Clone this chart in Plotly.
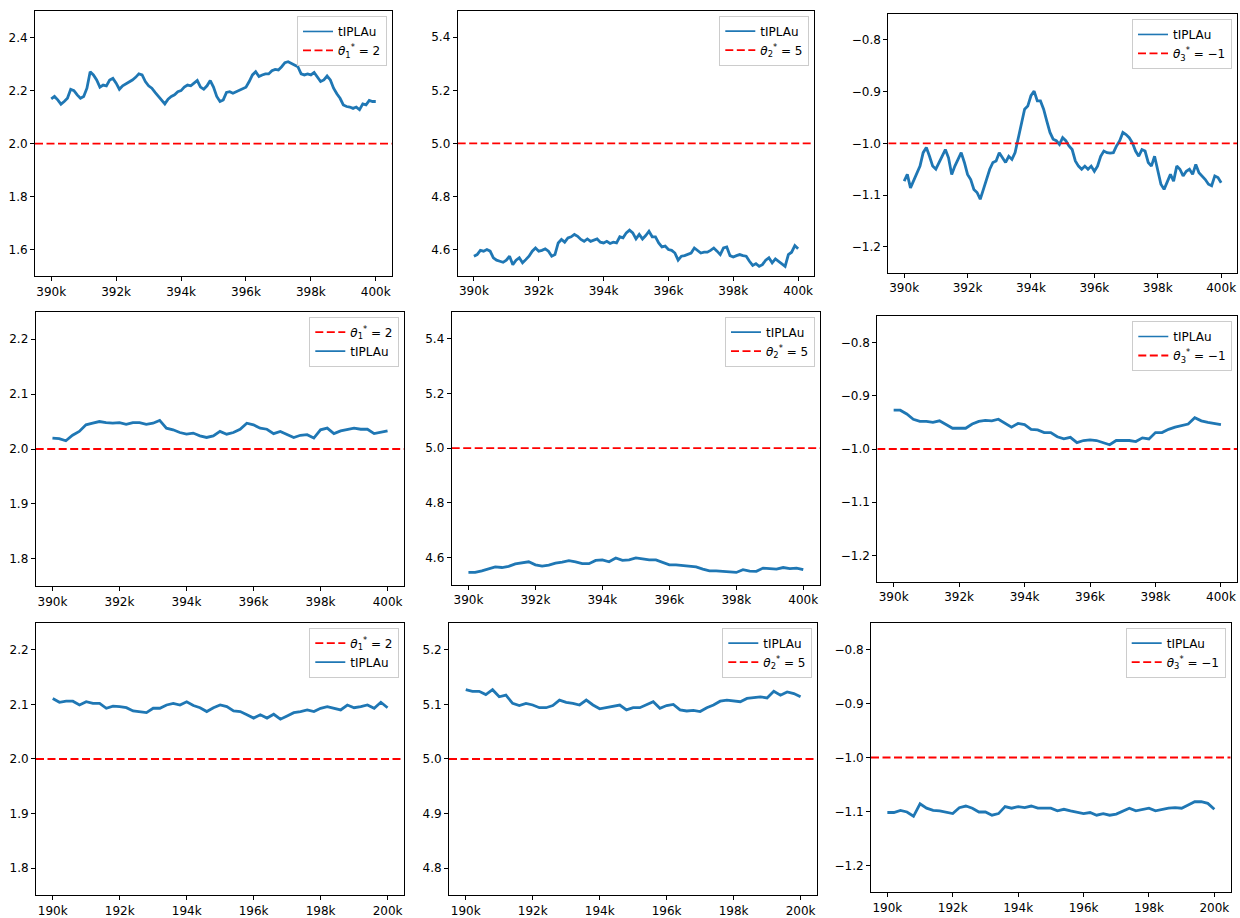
import numpy as np
import plotly.graph_objects as go

# ---------------- data ----------------
x_top = list(range(390000, 400001, 100))        # 101 points, row 1
x_mid = list(range(390000, 400001, 200))        # 51 points, row 2
x_bot = list(range(190000, 200001, 200))        # 51 points, row 3

r1_theta1 = [2.169, 2.178, 2.165, 2.149, 2.159, 2.171, 2.205, 2.200, 2.184, 2.171,
             2.178, 2.209, 2.271, 2.259, 2.240, 2.213, 2.221, 2.218, 2.240, 2.246,
             2.228, 2.205, 2.218, 2.225, 2.230, 2.240, 2.250, 2.263, 2.259, 2.234,
             2.218, 2.209, 2.193, 2.178, 2.165, 2.150, 2.168, 2.178, 2.184, 2.196,
             2.200, 2.213, 2.221, 2.218, 2.228, 2.238, 2.213, 2.205, 2.218, 2.238,
             2.213, 2.178, 2.159, 2.165, 2.193, 2.196, 2.190, 2.195, 2.200, 2.205,
             2.213, 2.234, 2.259, 2.271, 2.253, 2.259, 2.263, 2.263, 2.275, 2.280,
             2.278, 2.290, 2.305, 2.309, 2.303, 2.296, 2.290, 2.263, 2.259, 2.263,
             2.259, 2.268, 2.253, 2.234, 2.240, 2.255, 2.240, 2.209, 2.188, 2.171,
             2.146, 2.140, 2.138, 2.133, 2.138, 2.128, 2.150, 2.146, 2.163, 2.159,
             2.159]

r1_theta2 = [4.575, 4.581, 4.597, 4.594, 4.600, 4.594, 4.569, 4.560, 4.556, 4.552,
             4.560, 4.575, 4.543, 4.560, 4.569, 4.550, 4.562, 4.575, 4.594, 4.606,
             4.594, 4.597, 4.603, 4.594, 4.575, 4.581, 4.625, 4.638, 4.628, 4.644,
             4.648, 4.657, 4.650, 4.638, 4.631, 4.640, 4.631, 4.635, 4.640, 4.628,
             4.625, 4.631, 4.623, 4.628, 4.625, 4.648, 4.644, 4.663, 4.673, 4.663,
             4.640, 4.657, 4.640, 4.653, 4.669, 4.648, 4.648, 4.625, 4.610, 4.613,
             4.600, 4.597, 4.587, 4.560, 4.575, 4.577, 4.581, 4.587, 4.606, 4.597,
             4.587, 4.590, 4.590, 4.597, 4.606, 4.594, 4.581, 4.606, 4.610, 4.577,
             4.572, 4.577, 4.581, 4.577, 4.575, 4.556, 4.540, 4.547, 4.537, 4.543,
             4.560, 4.569, 4.550, 4.565, 4.556, 4.547, 4.537, 4.581, 4.590, 4.615,
             4.603]

r1_theta3 = [-1.073, -1.060, -1.086, -1.073, -1.057, -1.044, -1.018, -1.008, -1.025, -1.044,
             -1.050, -1.037, -1.025, -1.012, -1.028, -1.060, -1.044, -1.031, -1.018, -1.037,
             -1.060, -1.070, -1.089, -1.095, -1.108, -1.089, -1.070, -1.050, -1.037, -1.034,
             -1.018, -1.028, -1.037, -1.025, -1.031, -1.018, -0.992, -0.960, -0.934, -0.928,
             -0.908, -0.899, -0.918, -0.918, -0.934, -0.957, -0.979, -0.992, -0.995, -1.002,
             -0.989, -0.995, -1.005, -1.012, -1.034, -1.044, -1.050, -1.044, -1.050, -1.044,
             -1.054, -1.044, -1.025, -1.015, -1.018, -1.019, -1.018, -1.005, -0.995, -0.979,
             -0.983, -0.989, -0.999, -1.015, -1.025, -1.012, -1.015, -1.037, -1.044, -1.025,
             -1.050, -1.079, -1.089, -1.076, -1.060, -1.073, -1.044, -1.050, -1.063, -1.054,
             -1.050, -1.060, -1.041, -1.057, -1.063, -1.070, -1.079, -1.082, -1.063, -1.066,
             -1.076]

r2_theta1 = [2.020, 2.019, 2.015, 2.025, 2.032, 2.044, 2.047, 2.050, 2.048, 2.047,
             2.048, 2.045, 2.048, 2.048, 2.045, 2.047, 2.052, 2.038, 2.035, 2.030,
             2.027, 2.029, 2.024, 2.021, 2.024, 2.032, 2.027, 2.030, 2.036, 2.047,
             2.044, 2.038, 2.036, 2.028, 2.032, 2.026, 2.021, 2.025, 2.026, 2.020,
             2.035, 2.038, 2.028, 2.033, 2.035, 2.038, 2.036, 2.036, 2.028, 2.030,
             2.033]

r2_theta2 = [4.545, 4.545, 4.551, 4.557, 4.565, 4.563, 4.567, 4.576, 4.579, 4.584,
             4.573, 4.568, 4.572, 4.579, 4.583, 4.588, 4.584, 4.577, 4.577, 4.589,
             4.591, 4.584, 4.598, 4.589, 4.591, 4.598, 4.595, 4.591, 4.591, 4.582,
             4.573, 4.573, 4.570, 4.567, 4.565, 4.557, 4.551, 4.551, 4.549, 4.545,
             4.545, 4.555, 4.550, 4.549, 4.561, 4.559, 4.557, 4.563, 4.559, 4.561,
             4.555]

r2_theta3 = [-0.927, -0.927, -0.934, -0.944, -0.948, -0.948, -0.950, -0.947, -0.954, -0.961,
             -0.961, -0.961, -0.953, -0.948, -0.946, -0.947, -0.944, -0.952, -0.959, -0.952,
             -0.954, -0.963, -0.964, -0.969, -0.969, -0.977, -0.981, -0.978, -0.988, -0.984,
             -0.983, -0.984, -0.988, -0.992, -0.984, -0.984, -0.984, -0.986, -0.979, -0.981,
             -0.969, -0.969, -0.963, -0.959, -0.956, -0.953, -0.941, -0.947, -0.950, -0.952,
             -0.954]

r3_theta1 = [2.111, 2.104, 2.106, 2.106, 2.099, 2.105, 2.102, 2.102, 2.093, 2.097,
             2.096, 2.094, 2.088, 2.087, 2.085, 2.093, 2.093, 2.099, 2.102, 2.099,
             2.105, 2.098, 2.094, 2.087, 2.094, 2.099, 2.096, 2.088, 2.087, 2.081,
             2.075, 2.081, 2.075, 2.082, 2.073, 2.079, 2.085, 2.087, 2.090, 2.087,
             2.093, 2.096, 2.093, 2.090, 2.099, 2.094, 2.096, 2.099, 2.093, 2.104,
             2.094]

r3_theta2 = [5.127, 5.124, 5.124, 5.118, 5.127, 5.114, 5.117, 5.102, 5.098, 5.102,
             5.099, 5.094, 5.094, 5.098, 5.108, 5.104, 5.102, 5.099, 5.108, 5.099,
             5.092, 5.094, 5.096, 5.099, 5.090, 5.094, 5.094, 5.100, 5.105, 5.093,
             5.098, 5.100, 5.090, 5.088, 5.089, 5.087, 5.094, 5.099, 5.106, 5.108,
             5.106, 5.105, 5.111, 5.112, 5.114, 5.112, 5.124, 5.117, 5.123, 5.120,
             5.114]

r3_theta3 = [-1.102, -1.102, -1.098, -1.101, -1.109, -1.086, -1.094, -1.098, -1.099, -1.101,
             -1.104, -1.093, -1.090, -1.094, -1.101, -1.101, -1.107, -1.104, -1.091, -1.094,
             -1.091, -1.093, -1.090, -1.094, -1.094, -1.094, -1.099, -1.096, -1.099, -1.102,
             -1.104, -1.102, -1.107, -1.104, -1.107, -1.105, -1.099, -1.094, -1.099, -1.096,
             -1.094, -1.099, -1.096, -1.094, -1.093, -1.094, -1.088, -1.082, -1.082, -1.085,
             -1.096]

true_values = [2, 5, -1]
true_labels = ["<i>θ</i><sub>1</sub><sup>*</sup> = 2",
               "<i>θ</i><sub>2</sub><sup>*</sup> = 5",
               "<i>θ</i><sub>3</sub><sup>*</sup> = −1"]
series_name = "tIPLAu"

y_ranges = [[1.5, 2.5], [4.5, 5.5], [-1.25, -0.75],
            [1.75, 2.25], [4.5, 5.5], [-1.25, -0.75],
            [1.75, 2.25], [4.75, 5.25], [-1.25, -0.75]]
y_dticks = [0.2, 0.2, 0.1, 0.1, 0.2, 0.1, 0.1, 0.1, 0.1]
x_tick_vals_top = list(range(390000, 400001, 2000))
x_tick_vals_bot = list(range(190000, 200001, 2000))

# ---------------- layout geometry (pixels in a 1240x918 figure) ----------------
W, H = 1240, 918
boxes = [  # left, right, top, bottom
    (35, 392, 11, 277), (457.7, 814.3, 10.7, 276.7), (888.3, 1237, 14, 273.3),
    (35.7, 404.3, 312.3, 587.7), (451.7, 820, 312.3, 586), (877.3, 1237.3, 316.7, 583.3),
    (36, 404.3, 624, 897.3), (449, 817.3, 624, 897.3), (871, 1230.7, 624, 894.3),
]

panels = [
    (x_top, r1_theta1, 0, False), (x_top, r1_theta2, 1, False), (x_top, r1_theta3, 2, False),
    (x_mid, r2_theta1, 0, True), (x_mid, r2_theta2, 1, False), (x_mid, r2_theta3, 2, False),
    (x_bot, r3_theta1, 0, True), (x_bot, r3_theta2, 1, False), (x_bot, r3_theta3, 2, False),
]

BLUE = "#1f77b4"
FONT = "DejaVu Sans"
FS = 12

fig = go.Figure()
layout = dict(width=W, height=H, margin=dict(l=0, r=0, t=0, b=0, pad=0),
              paper_bgcolor="white", plot_bgcolor="white",
              font=dict(family=FONT, size=FS, color="black"), showlegend=True)

for i, (xs, ys, k, theta_first) in enumerate(panels):
    n = i + 1
    ax_x = "x" if n == 1 else f"x{n}"
    ax_y = "y" if n == 1 else f"y{n}"
    leg = "legend" if n == 1 else f"legend{n}"
    xmin, xmax = min(xs), max(xs)
    pad = 0.05 * (xmax - xmin)
    xr = [xmin - pad, xmax + pad]

    # the data line (thick, like the noisy original) without its own legend entry
    fig.add_trace(go.Scatter(x=xs, y=ys, mode="lines", name=series_name,
                             line=dict(color=BLUE, width=2.8), xaxis=ax_x, yaxis=ax_y,
                             showlegend=False, hoverinfo="skip"))
    # legend entries (thin line sample for the series, dashed red for the target)
    line_leg = go.Scatter(x=[None], y=[None], mode="lines", name=series_name,
                          line=dict(color=BLUE, width=1.6), xaxis=ax_x, yaxis=ax_y,
                          legend=leg, hoverinfo="skip")
    h_tr = go.Scatter(x=xr, y=[true_values[k]] * 2, mode="lines", name=true_labels[k],
                      line=dict(color="red", width=1.8, dash="8px,3.5px"),
                      xaxis=ax_x, yaxis=ax_y, legend=leg, hoverinfo="skip")
    if theta_first:
        fig.add_trace(h_tr)
        fig.add_trace(line_leg)
    else:
        fig.add_trace(line_leg)
        fig.add_trace(h_tr)

    l, r, t, b = boxes[i]
    xdom = [l / W, r / W]
    ydom = [1 - b / H, 1 - t / H]
    tv = x_tick_vals_bot if i >= 6 else x_tick_vals_top
    xname = "xaxis" if n == 1 else f"xaxis{n}"
    yname = "yaxis" if n == 1 else f"yaxis{n}"
    layout[xname] = dict(domain=xdom, anchor=ax_y, range=xr, tickvals=tv,
                         ticktext=[f"{v // 1000}k" for v in tv],
                         showline=True, linecolor="black", linewidth=1, mirror=True,
                         ticks="outside", ticklen=4, tickcolor="black", showgrid=False,
                         zeroline=False, tickfont=dict(family=FONT, size=FS, color="black"))
    layout[yname] = dict(domain=ydom, anchor=ax_x, range=y_ranges[i],
                         dtick=y_dticks[i], tick0=0, tickformat=".1f",
                         showline=True, linecolor="black", linewidth=1, mirror=True,
                         ticks="outside", ticklen=4, tickcolor="black", showgrid=False,
                         zeroline=False, tickfont=dict(family=FONT, size=FS, color="black"))
    layout[leg] = dict(x=(r - 5) / W, y=1 - (t + 5) / H, xanchor="right", yanchor="top",
                       xref="paper", yref="paper",
                       bgcolor="rgba(255,255,255,0.8)", bordercolor="#cccccc", borderwidth=1,
                       font=dict(family=FONT, size=FS, color="black"),
                       tracegroupgap=0, itemwidth=30)

fig.update_layout(**layout)
fig.write_html(
    "out.html",
    config={"displayModeBar": False},
    post_script="document.body.style.margin='0';document.body.style.padding='0';"
                "document.documentElement.style.overflow='hidden';",
)
